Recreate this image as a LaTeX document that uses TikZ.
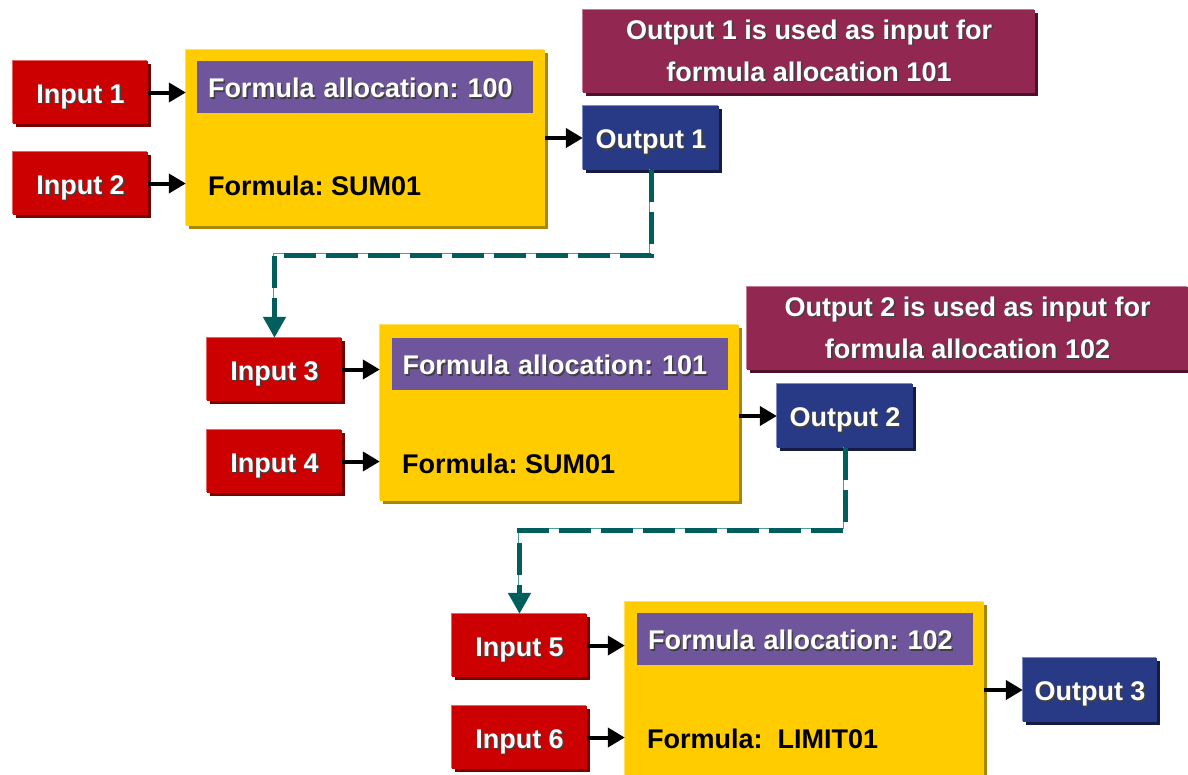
\documentclass[tikz,border=0pt]{standalone}
\usepackage{fontspec}
\setmainfont{Liberation Sans}
\usetikzlibrary{arrows.meta}
\frenchspacing

\definecolor{redmain}{HTML}{CC0000}
\definecolor{reddark}{HTML}{7A0000}
\definecolor{redlight}{HTML}{E06666}
\definecolor{yelmain}{HTML}{FFCC00}
\definecolor{yeldark}{HTML}{A88600}
\definecolor{yellight}{HTML}{FFE066}
\definecolor{headfill}{HTML}{6F559B}
\definecolor{bluemain}{HTML}{283A85}
\definecolor{bluedark}{HTML}{141C45}
\definecolor{bluelight}{HTML}{7F8CC0}
\definecolor{notemain}{HTML}{922751}
\definecolor{notedark}{HTML}{4F1029}
\definecolor{notelight}{HTML}{C07A96}
\definecolor{tealdark}{HTML}{005F5C}
\definecolor{teallight}{HTML}{4E9E98}

% white lettering with a dark drop shadow
\newcommand\shadowtext[1]{\makebox[0pt][l]{\hspace{1.6pt}\raisebox{-1.6pt}{\color{black!75}#1}}#1}

\tikzset{
  boxfont/.style={font=\fontsize{27}{32}\selectfont\bfseries},
  bevel/.style 2 args={
    preaction={fill=#1, transform canvas={xshift=-1.5pt,yshift=1.5pt}},
    preaction={fill=#2, transform canvas={xshift=3pt,yshift=-3pt}}},
  capcentred/.style={text height=21pt, text depth=0pt},
  inputbox/.style={boxfont, capcentred, text=white, fill=redmain, bevel={redlight}{reddark},
    minimum width=135pt, minimum height=63pt, inner sep=0pt},
  outputbox/.style={boxfont, capcentred, text=white, fill=bluemain, bevel={bluelight}{bluedark},
    minimum width=136pt, minimum height=64pt, inner sep=0pt},
  formulabox/.style={fill=yelmain, bevel={yellight}{yeldark},
    minimum width=359pt, minimum height=176pt, inner sep=0pt},
  headbox/.style={boxfont, capcentred, text=white, fill=headfill, minimum height=52pt,
    inner xsep=11pt, inner ysep=0pt, text width=314pt, align=left},
  formulatext/.style={boxfont, capcentred, text=black, anchor=west, inner sep=0pt},
  notebox/.style={font=\fontsize{27}{42}\selectfont\bfseries, text=white,
    fill=notemain, bevel={notelight}{notedark}, minimum height=83pt,
    inner sep=0pt, align=center},
  flowarrow/.style={line width=4pt, -{Triangle[width=19pt,length=17pt]}},
  chain/.style={line width=5pt, draw=tealdark, dash pattern=on 32pt off 10pt,
    -{Triangle[width=22pt,length=21pt]},
    preaction={draw=teallight, transform canvas={xshift=-1.5pt,yshift=1.5pt}}},
}

\begin{document}
\begin{tikzpicture}[x=1pt,y=-1pt]
\useasboundingbox (0,0) rectangle (1188,774);
\clip (0,0) rectangle (1188,774);

% ---- formula allocation 100 ----
\node[formulabox] (y1) at (365.5,138) {};
\node[headbox] (h1) at (365,87) {\shadowtext{Formula allocation: 100}};
\node[formulatext] (f1) at (208,185) {Formula: SUM01};
\node[inputbox] (in1) at (80.5,92.5) {\shadowtext{Input 1}};
\node[inputbox] (in2) at (80.5,183.5) {\shadowtext{Input 2}};
\node[outputbox] (out1) at (651,138) {\shadowtext{Output 1}};
\node[notebox, minimum width=452pt] (n1) at (809,51.5)
  {\shadowtext{Output 1 is used as input for}\\\shadowtext{formula allocation 101}};

% ---- formula allocation 101 ----
\node[formulabox] (y2) at (559.5,413) {};
\node[headbox] (h2) at (559.5,364) {\shadowtext{Formula allocation: 101}};
\node[formulatext] (f2) at (402,463) {Formula: SUM01};
\node[inputbox] (in3) at (274.5,369.5) {\shadowtext{Input 3}};
\node[inputbox] (in4) at (274.5,461.5) {\shadowtext{Input 4}};
\node[outputbox] (out2) at (845,416) {\shadowtext{Output 2}};
\node[notebox, minimum width=441pt] (n2) at (967.5,328.5)
  {\shadowtext{Output 2 is used as input for}\\\shadowtext{formula allocation 102}};

% ---- formula allocation 102 ----
\node[formulabox] (y3) at (804.5,690) {};
\node[headbox] (h3) at (805,639) {\shadowtext{Formula allocation: 102}};
\node[formulatext] (f3) at (647,738) {Formula:\ \ LIMIT01};
\node[inputbox] (in5) at (519.5,645.5) {\shadowtext{Input 5}};
\node[inputbox] (in6) at (519.5,737.5) {\shadowtext{Input 6}};
\node[outputbox, minimum width=134pt] (out3) at (1090,690) {\shadowtext{Output 3}};

% inputs into the formula boxes, results out of them
\foreach \i/\y in {in1/y1,in2/y1,in3/y2,in4/y2,in5/y3,in6/y3}
  \draw[flowarrow] (\i.east) -- (\i.east -| \y.west);
\foreach \o/\y in {out1/y1,out2/y2,out3/y3}
  \draw[flowarrow] (\o.west -| \y.east) -- (\o.west);

% outputs reused as inputs of the next allocation
\coordinate (b1) at (0,255);
\coordinate (b2) at (0,530);
\draw[chain] (out1.south) -- (out1.south |- b1) -| (in3.north);
\draw[chain] (out2.south) -- (out2.south |- b2) -| (in5.north);
\end{tikzpicture}
\end{document}
